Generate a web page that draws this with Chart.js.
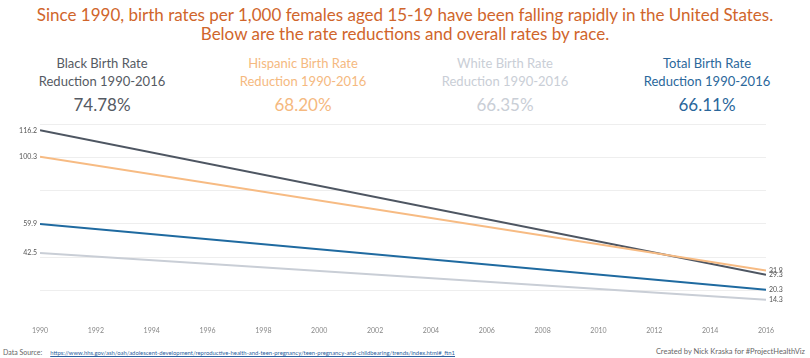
<!DOCTYPE html>
<html>
<head>
<meta charset="utf-8">
<script src="https://cdn.jsdelivr.net/npm/chart.js@4.4.1/dist/chart.umd.min.js"></script>
<style>
  body { margin: 0; width: 810px; height: 358px; background: #fff; font-family: Lato, "Open Sans", sans-serif; position: relative; overflow: hidden; }
  .title { position: absolute; top: 5px; left: 0; width: 810px; text-align: center; color: #d0652b; font-size: 17px; line-height: 19px; }
  .kpi { position: absolute; top: 54px; width: 200px; text-align: center; }
  .kpi .lbl { font-size: 13px; line-height: 18px; }
  .kpi .val { font-size: 17px; line-height: 22px; margin-top: 4px; }
  #wrap { position: absolute; left: 0; top: 118px; width: 810px; height: 222px; }
  .foot { position: absolute; top: 348px; font-size: 7px; color: #666; white-space: nowrap; }
  .foot a { color: #2c5f9e; text-decoration: underline; font-size: 5.9px; margin-left: 8px; }
</style>
</head>
<body>
<div class="title">Since 1990, birth rates per 1,000 females aged 15-19 have been falling rapidly in the United States.<br>Below are the rate reductions and overall rates by race.</div>

<div class="kpi" style="left:2px;color:#555a63"><div class="lbl">Black Birth Rate<br>Reduction 1990-2016</div><div class="val">74.78%</div></div>
<div class="kpi" style="left:203px;color:#f5b97f"><div class="lbl">Hispanic Birth Rate<br>Reduction 1990-2016</div><div class="val">68.20%</div></div>
<div class="kpi" style="left:405px;color:#c9ced6"><div class="lbl">White Birth Rate<br>Reduction 1990-2016</div><div class="val">66.35%</div></div>
<div class="kpi" style="left:607px;color:#2b679b"><div class="lbl">Total Birth Rate<br>Reduction 1990-2016</div><div class="val">66.11%</div></div>

<div id="wrap"><canvas id="rateChart"></canvas></div>

<div class="foot" style="left:3px">Data Source:<a>https://www.hhs.gov/ash/oah/adolescent-development/reproductive-health-and-teen-pregnancy/teen-pregnancy-and-childbearing/trends/index.html#_ftn1</a></div>
<div class="foot" style="right:5px;font-size:7.5px;top:347px">Created by Nick Kraska for #ProjectHealthViz</div>

<script>
// anni e valori (nascite per 1.000 ragazze 15-19)
const years = [1990, 2016];
const blackRate = [116.2, 29.3];
const hispanicRate = [100.3, 31.9];
const whiteRate = [42.5, 14.3];
const totalRate = [59.9, 20.3];
const yearTicks = [1990, 1992, 1994, 1996, 1998, 2000, 2002, 2004, 2006, 2008, 2010, 2012, 2014, 2016];

function pts(vals) {
    return years.map((y, i) => ({ x: y, y: vals[i] }));
}

// etichette agli estremi delle linee
const endLabels = {
    id: 'endLabels',
    afterDatasetsDraw(chart) {
        const ctx = chart.ctx;
        ctx.save();
        ctx.font = '7px Lato, sans-serif';
        ctx.fillStyle = '#555';
        ctx.textBaseline = 'middle';
        chart.data.datasets.forEach((ds, i) => {
            const meta = chart.getDatasetMeta(i);
            const first = meta.data[0];
            const last = meta.data[meta.data.length - 1];
            ctx.textAlign = 'right';
            ctx.fillText(ds.data[0].y.toFixed(1), first.x - 3, first.y);
            ctx.textAlign = 'left';
            ctx.fillText(ds.data[ds.data.length - 1].y.toFixed(1), last.x + 3, last.y);
        });
        ctx.restore();
    }
};

const ctx = document.getElementById('rateChart').getContext('2d');
new Chart(ctx, {
    type: 'line',
    data: {
        datasets: [
            { label: 'White', data: pts(whiteRate), borderColor: '#c9ced6' },
            { label: 'Total', data: pts(totalRate), borderColor: '#1f6aa0' },
            { label: 'Hispanic', data: pts(hispanicRate), borderColor: '#f7bb83' },
            { label: 'Black', data: pts(blackRate), borderColor: '#4e5662' }
        ].map(d => Object.assign(d, { borderWidth: 2, pointRadius: 0, tension: 0, fill: false }))
    },
    options: {
        responsive: true,
        maintainAspectRatio: false,
        animation: false,
        layout: { padding: { left: 40, right: 44, top: 6, bottom: 2 } },
        plugins: { legend: { display: false }, tooltip: { enabled: false } },
        scales: {
            x: {
                type: 'linear',
                min: 1990,
                max: 2016,
                afterBuildTicks: axis => { axis.ticks = yearTicks.map(v => ({ value: v })); },
                ticks: { color: '#888', font: { size: 7, family: 'Lato' }, maxRotation: 0, autoSkip: false, padding: 3, callback: v => String(v) },
                grid: { display: false, drawTicks: false },
                border: { display: false }
            },
            y: {
                min: 0,
                max: 120,
                ticks: { display: false, stepSize: 20 },
                grid: { color: c => c.tick.value === 0 ? 'rgba(0,0,0,0)' : '#eeeeee', drawTicks: false, lineWidth: 1 },
                border: { display: false }
            }
        }
    },
    plugins: [endLabels]
});
</script>
</body>
</html>
